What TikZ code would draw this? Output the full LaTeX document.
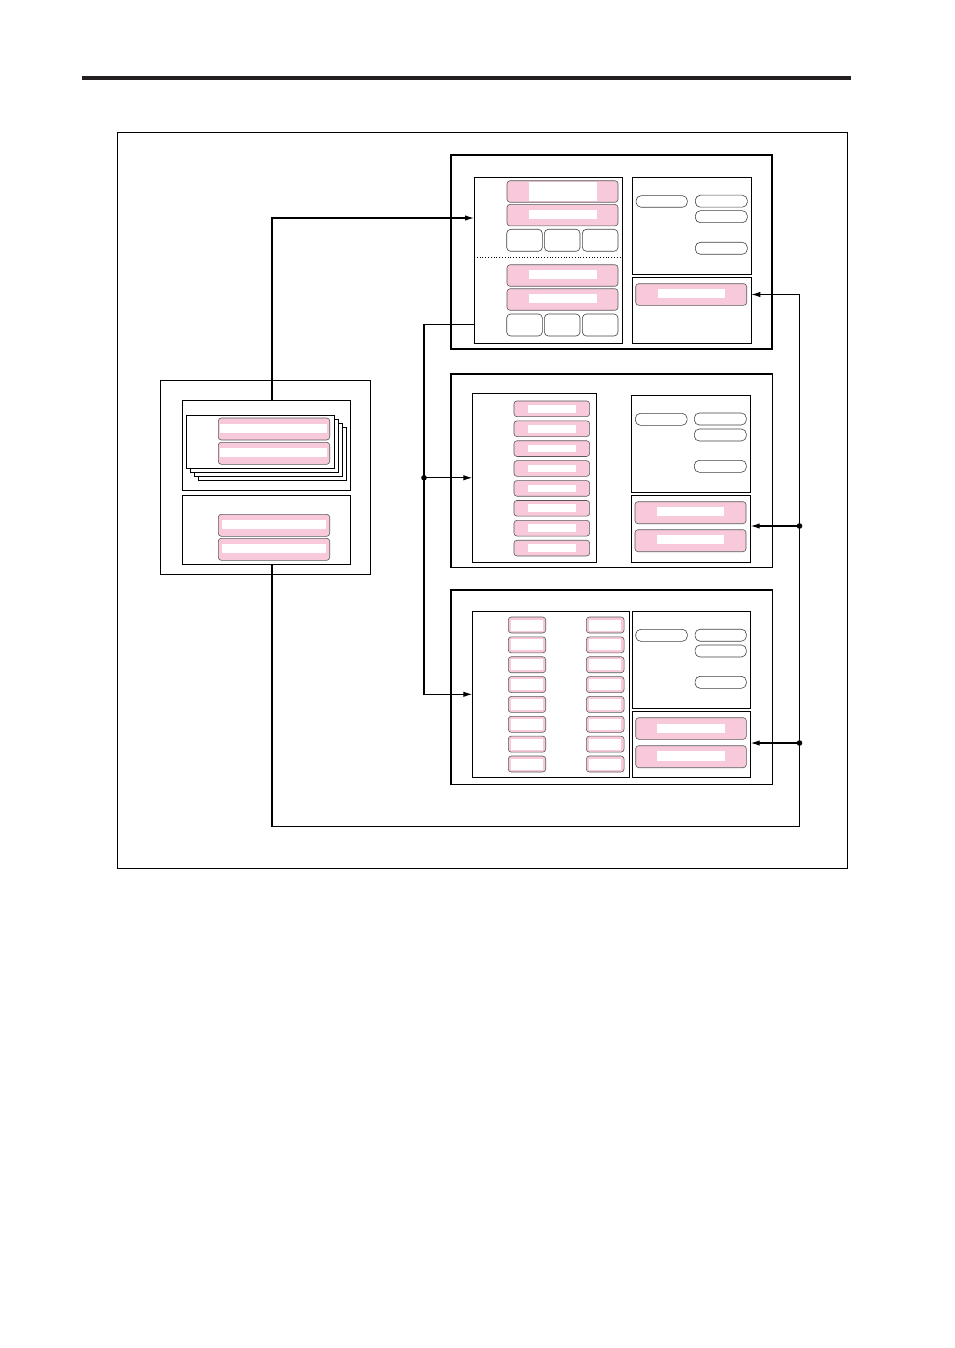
\documentclass[tikz,border=0pt]{standalone}
\usetikzlibrary{arrows.meta,positioning}
\definecolor{keypink}{HTML}{F7C9DB}
\definecolor{rulegray}{HTML}{231F20}

\begin{document}
\begin{tikzpicture}[x=1pt,y=-1pt,
  every node/.style={inner sep=0pt,outer sep=0pt},
  size/.style 2 args={minimum width=#1,minimum height=#2},
  panel/.style={draw,line width=1.6pt},
  frame/.style={draw,line width=0.9pt},
  key/.style={draw=black!65,fill=keypink,rounded corners=3pt,line width=0.6pt},
  strip/.style={fill=white},
  field/.style={draw=black!75,rounded corners=5pt,line width=0.6pt},
  link/.style={line width=1.2pt},
  arr/.style={link,-{Latex[length=9pt,width=5.5pt]}},
]
  \useasboundingbox (0,0) rectangle (954,1348);

  % page rule and outer frame
  \draw[rulegray,line width=4pt] (82,77.8) -- (851,77.8);
  \draw[line width=1.3pt] (117.3,132.3) rectangle (847.3,868.3);

  % ---- left panel
  \node[draw,line width=1.1pt,size={209.7}{194.3}] (lpanel) at (265.2,477.2) {};
  \node[frame,size={168}{90}] (upin) at (266.3,445.3) {};
  \node[frame,fill=white,size={148}{53}] (sheetC) at (272.3,453.8) {};
  \node[frame,fill=white,size={148}{53}] (sheetB) at (268.3,449.8) {};
  \node[frame,fill=white,size={148}{53}] (sheetA) at (264.3,445.8) {};
  \node[frame,fill=white,size={148}{53}] (sheet) at (260.3,441.8) {};
  \node[key,size={111.4}{22}] (lkeyA) at (274,429) {};
  \node[strip,size={107.3}{9.3}] (lstripA) at (273.7,428.3) {};
  \node[key,size={111.4}{22}] (lkeyB) at (274,453.3) {};
  \node[strip,size={107.3}{9.3}] (lstripB) at (273.7,452.3) {};
  \node[frame,size={168}{69}] (loin) at (266.3,529.8) {};
  \node[key,size={111.4}{22}] (lkeyC) at (274,525.3) {};
  \node[strip,size={104.6}{9.3}] (lstripC) at (274,524.3) {};
  \node[key,size={111.4}{22}] (lkeyD) at (274,549.3) {};
  \node[strip,size={104.6}{9.3}] (lstripD) at (274,548.3) {};

  % ---- top panel
  \node[panel,size={321}{194}] (top) at (611.5,252) {};
  \node[frame,size={148}{166}] (tlist) at (548,260) {};
  \node[key,size={111}{21.5}] (tkeyA) at (562.5,191.5) {};
  \node[strip,size={68}{19}] (tstripA) at (563,191.5) {};
  \node[key,size={111}{21.5}] (tkeyB) at (562.5,215.2) {};
  \node[strip,size={68}{8.4}] (tstripB) at (563,214.5) {};
  \node[field,rounded corners=4pt,size={35.6}{22}] (tbtnA) at (524.5,240.3) {};
  \node[field,rounded corners=4pt,size={35.6}{22}] (tbtnB) at (562.2,240.3) {};
  \node[field,rounded corners=4pt,size={35.6}{22}] (tbtnC) at (600.2,240.3) {};
  \coordinate (tdiv) at (548,257.3);
  \draw[dotted,line width=0.8pt] (tlist.west |- tdiv) -- (tlist.east |- tdiv);
  \node[key,size={111}{21.5}] (tkeyC) at (562.5,275.5) {};
  \node[strip,size={68}{9}] (tstripC) at (563,274.5) {};
  \node[key,size={111}{21.5}] (tkeyD) at (562.5,299.5) {};
  \node[strip,size={68}{8.4}] (tstripD) at (563,298.5) {};
  \node[field,rounded corners=4pt,size={35.6}{22}] (tbtnD) at (524.5,325) {};
  \node[field,rounded corners=4pt,size={35.6}{22}] (tbtnE) at (562.2,325) {};
  \node[field,rounded corners=4pt,size={35.6}{22}] (tbtnF) at (600.2,325) {};
  \node[frame,size={119}{97}] (tinfo) at (691.8,225.8) {};
  \node[field,size={51.3}{11.6}] (tfieldA) at (661.7,201.5) {};
  \node[field,size={52}{12}] (tfieldB) at (721.3,201.2) {};
  \node[field,size={52}{12}] (tfieldC) at (721.3,216.7) {};
  \node[field,size={52}{12}] (tfieldD) at (721.3,248.3) {};
  \node[frame,size={119}{65.7}] (tres) at (691.8,310.2) {};
  \node[key,size={111}{21.6}] (tkeyE) at (691.2,294.5) {};
  \node[strip,size={67}{8.7}] (tstripE) at (691.5,293.7) {};

  % ---- middle panel
  \node[panel,size={321.3}{193.3}] (mid) at (611.7,470.7) {};
  \node[frame,size={124}{169}] (mlist) at (534.3,477.8) {};
  \foreach \i in {0,...,7} {
    \node[key,size={75.7}{15.7}] (mkey\i) at (551.8,{408.8+19.9*\i}) {};
    \node[strip,size={48}{7.7}] (mstrip\i) at (mkey\i) {};
  }
  \node[frame,size={119.4}{97}] (minfo) at (691,443.8) {};
  \node[field,size={51.7}{12}] (mfieldA) at (661.2,419.3) {};
  \node[field,size={52}{12}] (mfieldB) at (720.3,419) {};
  \node[field,size={52}{12}] (mfieldC) at (720.3,435) {};
  \node[field,size={52}{12}] (mfieldD) at (720.3,466.3) {};
  \node[frame,size={119.4}{67}] (mres) at (691,528.8) {};
  \node[key,size={111}{22}] (mkeyA) at (690.5,512.7) {};
  \node[strip,size={66.7}{9}] (mstripA) at (690.3,511.8) {};
  \node[key,size={111}{22}] (mkeyB) at (690.5,540.7) {};
  \node[strip,size={66.7}{9}] (mstripB) at (690.3,539.3) {};

  % ---- bottom panel
  \node[panel,size={321.3}{194.6}] (bot) at (611.7,687) {};
  \node[frame,size={156.7}{166}] (blist) at (550.7,694.3) {};
  \foreach \i in {0,...,7} {
    \node[key,size={37.4}{16}] (bkeyL\i) at (527,{625+19.86*\i}) {};
    \node[strip,size={32}{11}] (bstripL\i) at (bkeyL\i) {};
    \node[key,size={37.7}{16}] (bkeyR\i) at (605.2,{625+19.86*\i}) {};
    \node[strip,size={32}{11}] (bstripR\i) at (bkeyR\i) {};
  }
  \node[frame,size={118.4}{97}] (binfo) at (691.5,659.8) {};
  \node[field,size={51.6}{12}] (bfieldA) at (661.5,635.3) {};
  \node[field,size={51.3}{12}] (bfieldB) at (720.7,635.2) {};
  \node[field,size={51.3}{12}] (bfieldC) at (720.7,651) {};
  \node[field,size={51.3}{12}] (bfieldD) at (720.7,682.3) {};
  \node[frame,size={118.4}{66}] (bres) at (691.5,744.3) {};
  \node[key,size={110.6}{21.6}] (bkeyA) at (691,728.5) {};
  \node[strip,size={68}{9}] (bstripA) at (691,728.2) {};
  \node[key,size={110.6}{22}] (bkeyB) at (691,756.7) {};
  \node[strip,size={68}{9.4}] (bstripB) at (691,756) {};

  % ---- connectors
  \coordinate (tap) at (272,218);
  \coordinate (tout) at (474,324.3);
  \coordinate (split) at (424,477.8);
  \coordinate (ret) at (799.5,826.7);
  \coordinate (mtap) at (799.5,526);
  \coordinate (btap) at (799.5,743);

  \draw[arr] (upin.north -| tap) |- (tlist.west |- tap);
  \draw[arr] (tout) -| (split) |- (blist.west);
  \draw[arr] (split) -- (mlist.west);
  \fill (split) circle (2.8);

  \draw[arr] (loin.south -| tap) |- (ret) |- (tres.east |- tkeyE);
  \draw[arr] (mtap) -- (mres.east |- mtap);
  \draw[arr] (btap) -- (bres.east |- btap);
  \fill (mtap) circle (2.8);
  \fill (btap) circle (2.8);
\end{tikzpicture}
\end{document}
